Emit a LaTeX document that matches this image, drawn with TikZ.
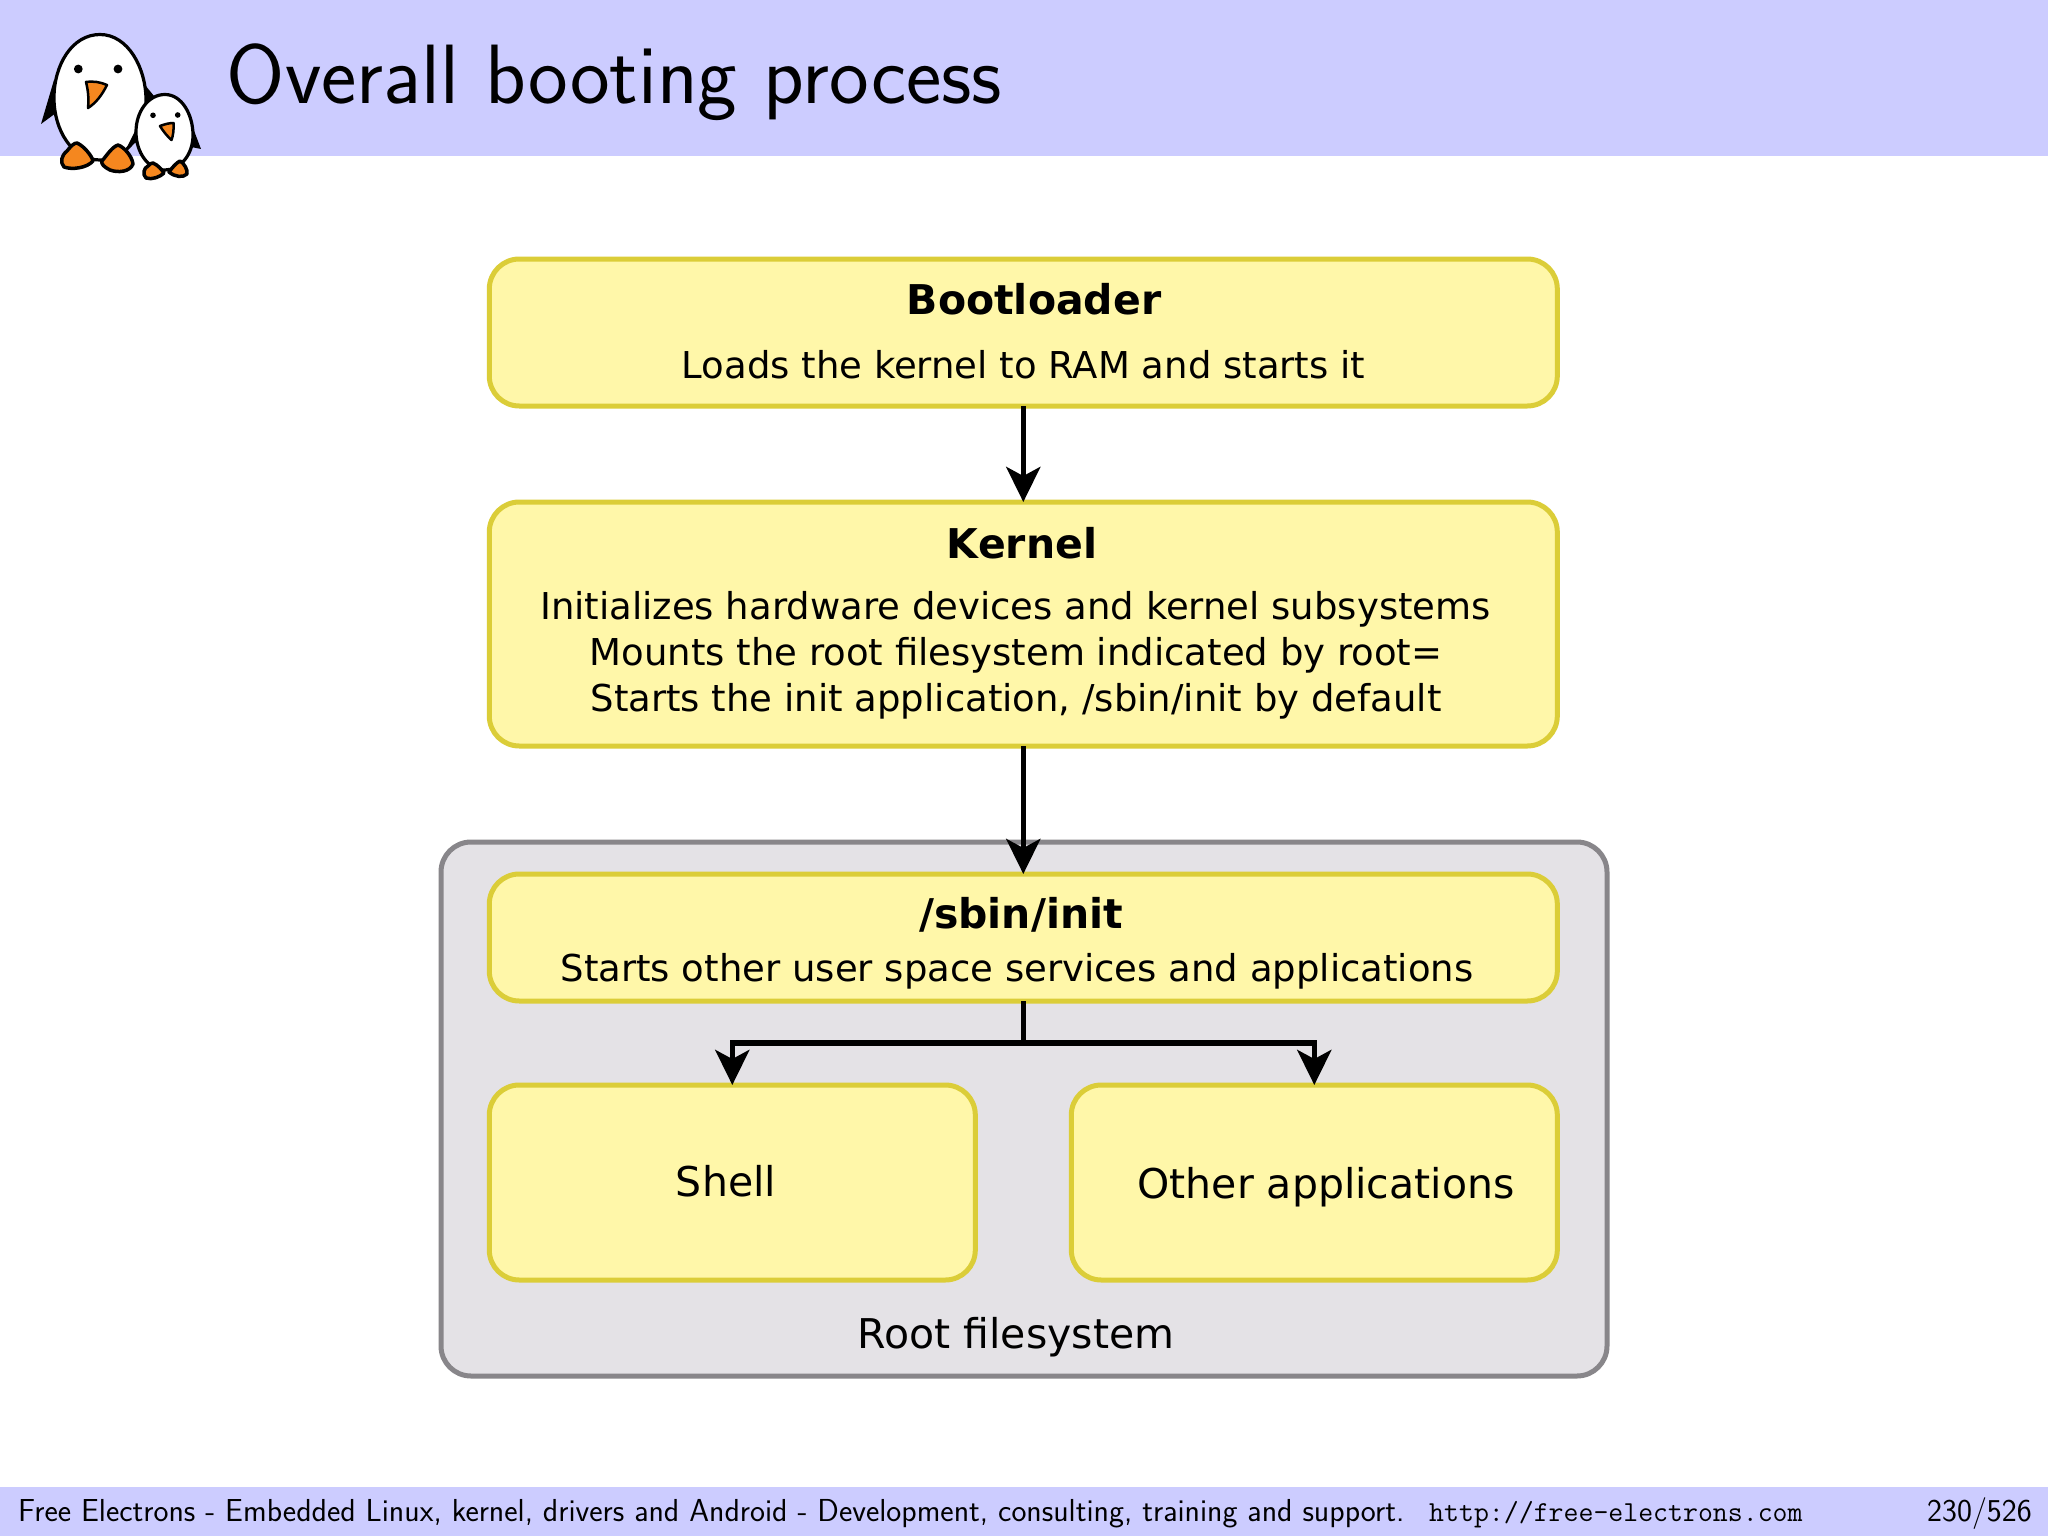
\documentclass[tikz,border=0pt]{standalone}
\usepackage{fontspec}
\usetikzlibrary{arrows.meta}
\newfontfamily\boxfont{DejaVu Sans}
\definecolor{band}{HTML}{CCCCFF}
\definecolor{boxfill}{HTML}{FFF7A9}
\definecolor{boxline}{HTML}{DBCD38}
\definecolor{rootfill}{HTML}{E4E2E6}
\definecolor{rootline}{HTML}{88868A}
\definecolor{beak}{HTML}{F5871F}
\tikzset{
  x=1pt,y=-1pt,
  yellowbox/.style={draw=boxline,fill=boxfill,line width=5pt,rounded corners=30pt,inner sep=0pt,outer sep=0pt,anchor=north west},
  rootbox/.style={draw=rootline,fill=rootfill,line width=5pt,rounded corners=30pt,inner sep=0pt,outer sep=0pt,anchor=north west},
  bodytxt/.style={anchor=base,inner sep=0pt,font=\boxfont\fontsize{37}{40}\selectfont},
  headtxt/.style={anchor=base,inner sep=0pt,font=\boxfont\bfseries\fontsize{41}{44}\selectfont},
  flow/.style={draw=black,line width=5.5pt,-{Stealth[length=35pt,width=34pt,inset=9pt]}},
  flowplain/.style={draw=black,line width=5.5pt},
  peng/.style={draw=black,fill=white,line width=3.2pt},
  pengfoot/.style={draw=black,fill=beak,line width=3.5pt,line join=round},
  pengbeak/.style={draw=black,fill=beak,line width=2.5pt,line join=round},
}
\begin{document}
\begin{tikzpicture}
\useasboundingbox (0,0) rectangle (2048,1536);
\fill[white] (0,0) rectangle (2048,1536);
\fill[band] (0,0) rectangle (2048,156);
\fill[band] (0,1487) rectangle (2048,1536);

% penguins
\fill (54,80) -- (41,124) -- (56,113) -- cycle;
\fill (145,85) -- (154,96) -- (142,104) -- cycle;
\draw[peng] (100,34.5) .. controls (128,34.5) and (146,68) .. (146,100)
  .. controls (146,135) and (125,160) .. (100,160)
  .. controls (72,160) and (54,130) .. (54,98)
  .. controls (54,65) and (72,34.5) .. (100,34.5) -- cycle;
\fill (78.3,69) circle (4.4);
\fill (118,69) circle (4.4);
\draw[pengbeak] (86,82) .. controls (94,81) and (100,82) .. (107,85)
  .. controls (102,95) and (96,103) .. (88,108) .. controls (89,98) and (88,90) .. (86,82) -- cycle;
\draw[pengfoot] (77,143) .. controls (84,146) and (92,156) .. (93,161)
  .. controls (87,168) and (72,170) .. (64,167) .. controls (60,162) and (61,156) .. (67,151)
  .. controls (71,146) and (74,143) .. (77,143) -- cycle;
\draw[pengfoot] (118,145) .. controls (124,147) and (132,156) .. (133,164)
  .. controls (130,172) and (118,173) .. (110,170) .. controls (104,167) and (101,164) .. (102,161)
  .. controls (107,155) and (112,147) .. (118,145) -- cycle;
\fill (137,127) -- (127,147) -- (137,142) -- cycle;
\fill (193,128) -- (201,149) -- (191,147) -- cycle;
\draw[peng] (165,94.5) .. controls (182,94.5) and (193,115) .. (193,135)
  .. controls (193,155) and (180,170) .. (165,170)
  .. controls (148,170) and (136,152) .. (136,132)
  .. controls (136,112) and (148,94.5) .. (165,94.5) -- cycle;
\fill (153,115.3) circle (2.8);
\fill (177.7,115) circle (2.8);
\draw[pengbeak] (160,126) .. controls (165,124) and (170,123) .. (173.5,123)
  .. controls (174,130) and (173,136) .. (171.5,140) .. controls (167,136) and (163,131) .. (160,126) -- cycle;
\draw[pengfoot] (153,163) .. controls (158,165) and (162,170) .. (164,173)
  .. controls (160,177) and (152,180) .. (146,178) .. controls (142,174) and (144,168) .. (148,166)
  .. controls (150,164) and (151,163) .. (153,163) -- cycle;
\draw[pengfoot] (180,161) .. controls (184,163) and (188,170) .. (187,174)
  .. controls (183,178) and (175,177) .. (169,172) .. controls (172,168) and (176,163) .. (180,161) -- cycle;

% title
\node[anchor=base west,inner sep=0pt,font=\sffamily\fontsize{84.2}{90}\selectfont] (title) at (226.5,104) {Overall booting process};

% boxes
\node[rootbox,minimum width=1166pt,minimum height=534pt] (root) at (441,842) {};
\node[yellowbox,minimum width=1068pt,minimum height=147pt] (boot) at (489.3,259) {};
\node[yellowbox,minimum width=1068pt,minimum height=244pt] (kernel) at (489.3,502) {};
\node[yellowbox,minimum width=1068pt,minimum height=127pt] (init) at (489.3,874) {};
\node[yellowbox,minimum width=486pt,minimum height=195pt] (shell) at (489.3,1085) {};
\node[yellowbox,minimum width=486pt,minimum height=195pt] (other) at (1071.3,1085) {};

% connectors
\coordinate (split) at (init.south |- 0,1043);
\draw[flow] (boot.south) -- (kernel.north);
\draw[flow] (kernel.south) -- (init.north);
\draw[flowplain] (init.south) -- (split);
\draw[flow,rounded corners=0pt] (split) -| (shell.north);
\draw[flow,rounded corners=0pt] (split) -| (other.north);

% texts
\node[headtxt] (t1) at (1034,314) {Bootloader};
\node[bodytxt] (t2) at (1023.5,378) {Loads the kernel to RAM and starts it};
\node[headtxt] (t3) at (1022,558) {Kernel};
\node[bodytxt] (t4) at (1015.5,619) {Initializes hardware devices and kernel subsystems};
\node[bodytxt] (t5) at (1016,665) {Mounts the root filesystem indicated by root=};
\node[bodytxt] (t6) at (1016,711.5) {Starts the init application, /sbin/init by default};
\node[headtxt] (t7) at (1021,928) {/sbin/init};
\node[bodytxt] (t8) at (1017,981) {Starts other user space services and applications};
\node[bodytxt,font=\boxfont\fontsize{41}{44}\selectfont] (t9) at (726,1196) {Shell};
\node[bodytxt,font=\boxfont\fontsize{41}{44}\selectfont] (t10) at (1326,1198) {Other applications};
\node[bodytxt,font=\boxfont\fontsize{41}{44}\selectfont] (t11) at (1016,1348) {Root filesystem};

% footer
\node[anchor=base west,inner sep=0pt,font=\sffamily\fontsize{31.8}{34}\selectfont] (f1) at (18,1521) {Free Electrons - Embedded Linux, kernel, drivers and Android - Development, consulting, training and support.};
\node[anchor=base west,inner sep=0pt,font=\ttfamily\fontsize{29}{32}\selectfont] (f2) at (1429,1521) {http://free-electrons.com};
\node[anchor=base east,inner sep=0pt,font=\sffamily\fontsize{31.8}{34}\selectfont] (f3) at (2032,1521) {230/526};
\end{tikzpicture}
\end{document}
